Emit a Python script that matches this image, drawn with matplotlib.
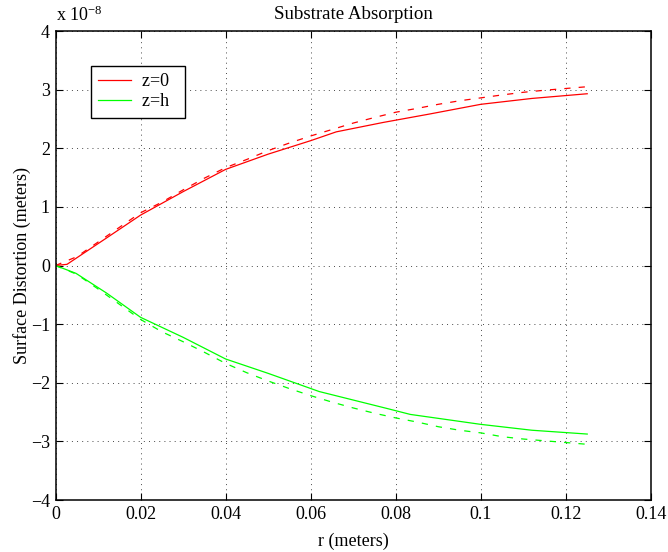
import matplotlib
matplotlib.use("Agg")
import matplotlib.pyplot as plt
from matplotlib.ticker import FuncFormatter

# ---- data (surface distortion in units of 1e-8 m) ----
r_solid_top = [0, 0.0027, 0.012, 0.02, 0.03, 0.04, 0.05, 0.06, 0.066, 0.077, 0.088, 0.1, 0.112, 0.125]
z0_solid = [0, 0.02, 0.47, 0.86, 1.26, 1.64, 1.90, 2.13, 2.28, 2.44, 2.585, 2.75, 2.85, 2.93]

r_solid_bot = [0, 0.0048, 0.012, 0.02, 0.03, 0.04, 0.05, 0.062, 0.078, 0.0834, 0.1, 0.112, 0.125]
zh_solid = [0, -0.133, -0.47, -0.884, -1.225, -1.595, -1.84, -2.15, -2.44, -2.54, -2.71, -2.81, -2.875]

r_dash = [0, 0.005, 0.01, 0.015, 0.02, 0.025, 0.03, 0.035, 0.04, 0.045, 0.05, 0.055, 0.06,
          0.065, 0.07, 0.075, 0.08, 0.085, 0.09, 0.095, 0.1, 0.105, 0.11, 0.115, 0.12, 0.125]
z0_dash = [0, 0.15, 0.40, 0.65, 0.90, 1.08, 1.29, 1.49, 1.67, 1.81, 1.96, 2.09, 2.21,
           2.32, 2.43, 2.525, 2.615, 2.68, 2.75, 2.81, 2.86, 2.91, 2.955, 2.99, 3.02, 3.05]
zh_dash = [0, -0.15, -0.40, -0.66, -0.92, -1.13, -1.30, -1.48, -1.67, -1.83, -1.97, -2.10, -2.22,
           -2.33, -2.43, -2.52, -2.60, -2.67, -2.75, -2.81, -2.855, -2.92, -2.96, -2.99, -3.02, -3.05]

x_ticks = [0, 0.02, 0.04, 0.06, 0.08, 0.1, 0.12, 0.14]
y_ticks = [-4, -3, -2, -1, 0, 1, 2, 3, 4]
legend_labels = ["z=0", "z=h"]

plt.rcParams['font.family'] = ['Liberation Serif', 'DejaVu Serif']
plt.rcParams['mathtext.fontset'] = 'stix'
FS = 13

fig = plt.figure(figsize=(6.68, 5.52), dpi=100)
ax = fig.add_axes([0.0831, 0.0942, 0.8915, 0.8496])

red = (1, 0, 0)
green = (0, 1, 0)
lw = 0.9
dash = (5, 6.5)

ax.plot(r_solid_top, z0_solid, color=red, lw=lw, label=legend_labels[0])
ax.plot(r_solid_bot, zh_solid, color=green, lw=lw, label=legend_labels[1])
ax.plot(r_dash, z0_dash, color=red, lw=lw, linestyle=(0, dash))
ax.plot(r_dash, zh_dash, color=green, lw=lw, linestyle=(0, dash))

ax.set_xlim(0, 0.14)
ax.set_ylim(-4, 4)
ax.set_xticks(x_ticks)
ax.set_yticks(y_ticks)
ax.xaxis.set_major_formatter(FuncFormatter(lambda v, p: "%g" % round(v, 4)))
ax.yaxis.set_major_formatter(FuncFormatter(lambda v, p: ("\u2212%g" % abs(v)) if v < 0 else "%g" % v))

ax.grid(True, color='k', linestyle=(0, (1.4, 6.0)), linewidth=0.5)
ax.tick_params(direction='in', length=5, width=0.8, top=True, right=True,
               labelsize=FS)
ax.tick_params(axis='x', pad=4)
ax.tick_params(axis='y', pad=4)
for s in ax.spines.values():
    s.set_linewidth(1.1)

ax.set_title("Substrate Absorption", fontsize=13.6, pad=9)
ax.set_xlabel("r (meters)", fontsize=FS, labelpad=7)
ax.set_ylabel("Surface Distortion (meters)", fontsize=FS, labelpad=0)

ax.text(0.0, 1.012, r"x 10$^{\mathregular{-8}}$", transform=ax.transAxes,
        fontsize=FS, ha='left', va='bottom')

leg = ax.legend(loc='upper left', bbox_to_anchor=(0.0591, 0.926), borderaxespad=0,
                fancybox=False, framealpha=1, edgecolor='k', fontsize=FS,
                handlelength=1.8, handletextpad=0.6, borderpad=0.42,
                labelspacing=0.15)
leg.get_frame().set_linewidth(1.0)
for t in leg.get_texts():
    t.set_text(t.get_text() + "  ")

fig.savefig("out.png", dpi=100)
